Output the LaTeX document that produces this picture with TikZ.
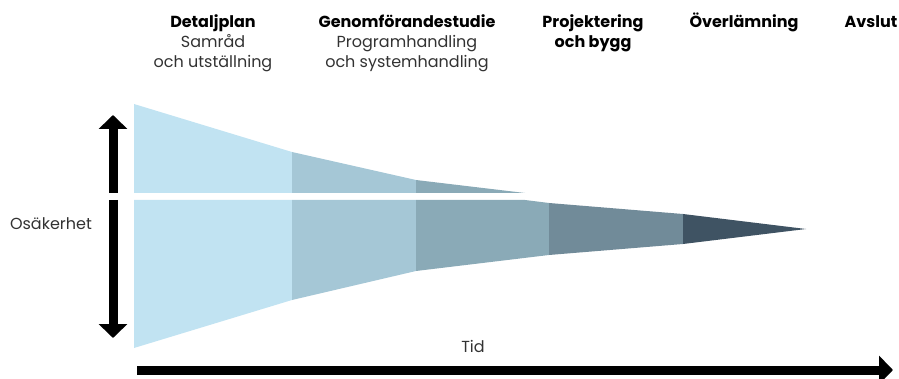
\documentclass[tikz,border=0pt]{standalone}
\usepackage{fontspec}
\setmainfont{Poppins}
\usetikzlibrary{arrows.meta}
\definecolor{segA}{RGB}{193,227,242}
\definecolor{segB}{RGB}{165,199,214}
\definecolor{segC}{RGB}{138,170,183}
\definecolor{segD}{RGB}{113,139,153}
\definecolor{segE}{RGB}{63,83,99}
\definecolor{txtgray}{RGB}{50,50,50}
\begin{document}
\begin{tikzpicture}[x=1pt,y=-1pt,
  head/.style={font=\bfseries\fontsize{16}{18}\selectfont, text=black, inner sep=0pt, anchor=base},
  sub/.style={font=\fontsize{16}{18}\selectfont, text=txtgray, inner sep=0pt, anchor=base},
  axis/.style={line width=9pt, draw=black, -{Triangle[length=14pt,width=28pt]}}]
\useasboundingbox (0,0) rectangle (899,379);

% upper band of the funnel
\fill[segA] (134,104) -- (292,152) -- (292,193) -- (134,193) -- cycle;
\fill[segB] (292,152) -- (416,180) -- (416,193) -- (292,193) -- cycle;
\fill[segC] (416,180) -- (525,193) -- (416,193) -- cycle;

% lower band of the funnel
\fill[segA] (134,200) -- (292,200) -- (292,300) -- (134,348) -- cycle;
\fill[segB] (292,200) -- (416,200) -- (416,271) -- (292,300) -- cycle;
\fill[segC] (416,200) -- (525,200) -- (549,203) -- (549,255) -- (416,271) -- cycle;
\fill[segD] (549,203) -- (683,214) -- (683,244) -- (549,255) -- cycle;
\fill[segE] (683,214) -- (806,229) -- (683,244) -- cycle;

% axes
\coordinate (upS) at (113,193);
\coordinate (upE) at (113,115);
\coordinate (dnS) at (113,200);
\coordinate (dnE) at (113,338);
\coordinate (tS) at (137,370);
\coordinate (tE) at (893,370);
\draw[axis] (upS) -- (upE);
\draw[axis] (dnS) -- (dnE);
\draw[axis] (tS) -- (tE);

% axis labels
\node[sub] (osak) at (51,230) {Osäkerhet};
\node[sub] (tid) at (473,352) {Tid};

% phase headings
\node[head] (p1) at (213,28) {Detaljplan};
\node[sub]  (p1a) at (213,48) {Samråd};
\node[sub]  (p1b) at (213,68) {och utställning};

\node[head] (p2) at (407,28) {Genomförandestudie};
\node[sub]  (p2a) at (407,48) {Programhandling};
\node[sub]  (p2b) at (407,68) {och systemhandling};

\node[head] (p3) at (593,28) {Projektering};
\node[head] (p3a) at (593,48) {och bygg};

\node[head] (p4) at (744,28) {Överlämning};
\node[head] (p5) at (871,28) {Avslut};
\end{tikzpicture}
\end{document}
